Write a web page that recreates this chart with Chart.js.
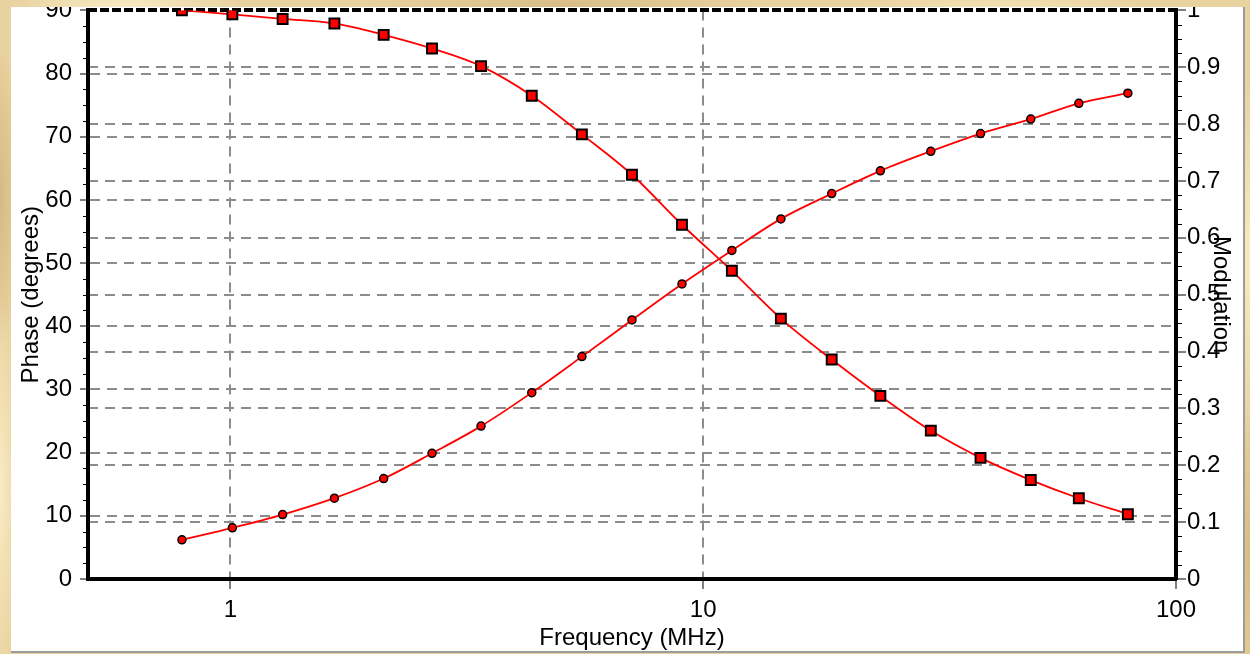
<!DOCTYPE html>
<html>
<head>
<meta charset="utf-8">
<script src="https://cdn.jsdelivr.net/npm/chart.js@4.4.0/dist/chart.umd.min.js"></script>
<style>
    html, body { margin: 0; padding: 0; }
    body {
        width: 1250px; height: 654px; overflow: hidden; position: relative;
        background-color: #e8d29f;
        background-image:
            radial-gradient(ellipse 120px 40px at 10% 2%, rgba(255, 246, 215, 0.8), transparent),
            radial-gradient(ellipse 200px 30px at 45% 1%, rgba(205, 175, 115, 0.6), transparent),
            radial-gradient(ellipse 160px 40px at 80% 3%, rgba(255, 240, 200, 0.7), transparent),
            radial-gradient(ellipse 20px 150px at 0% 30%, rgba(200, 168, 110, 0.6), transparent),
            radial-gradient(ellipse 20px 200px at 0% 75%, rgba(255, 242, 205, 0.8), transparent),
            radial-gradient(ellipse 20px 180px at 100% 40%, rgba(255, 242, 205, 0.8), transparent),
            radial-gradient(ellipse 20px 160px at 100% 85%, rgba(205, 172, 112, 0.6), transparent);
    }
    #panel {
        position: absolute; left: 11px; top: 7px; width: 1232px; height: 644px;
        background: #fff; overflow: hidden;
        border-right: 2px solid #9c9c9c; border-bottom: 2px solid #9c9c9c;
    }
    #wrap { position: absolute; left: 0; top: -19px; }
</style>
</head>
<body>
<div id="panel"><div id="wrap"><canvas id="phaseChart" width="1232" height="663"></canvas></div></div>
<script>
// Frequency sweep: phase (deg, left axis) and modulation (right axis)
const freqMHz = [0.79, 1.01, 1.29, 1.66, 2.11, 2.67, 3.39, 4.34, 5.54, 7.07,
                 9.02, 11.5, 14.6, 18.7, 23.7, 30.3, 38.6, 49.3, 62.3, 79.1];
const phaseDeg = [6.2, 8.1, 10.2, 12.8, 15.9, 19.9, 24.2, 29.5, 35.2, 41.0,
                  46.7, 52.0, 57.0, 61.0, 64.6, 67.7, 70.5, 72.8, 75.3, 76.9];
const modulation = [1.00, 0.993, 0.985, 0.977, 0.957, 0.933, 0.902, 0.850, 0.782, 0.711,
                    0.623, 0.542, 0.458, 0.386, 0.322, 0.261, 0.213, 0.174, 0.142, 0.114];

const freqTicks = [1, 10, 100];
const phaseTicks = [0, 10, 20, 30, 40, 50, 60, 70, 80, 90];
const modTicks = [0, 0.1, 0.2, 0.3, 0.4, 0.5, 0.6, 0.7, 0.8, 0.9, 1];

const FONT = { family: 'Liberation Sans, Arial, sans-serif', size: 24 };
const GRID_GRAY = '#8c8c8c';

// small unlabeled ticks between the labeled ones on both y axes
const minorTicks = {
    id: 'minorTicks',
    afterDraw(chart) {
        const { ctx, scales } = chart;
        const y = scales.y, y1 = scales.y1;
        ctx.save();
        ctx.strokeStyle = '#000';
        ctx.lineWidth = 1;
        ctx.beginPath();
        for (let i = 1; i < 36; i++) {
            if (i % 4 === 0) continue;
            const py = Math.round(y.getPixelForValue(i * 2.5)) + 0.5;
            ctx.moveTo(y.right - 5, py);
            ctx.lineTo(y.right, py);
        }
        for (let i = 1; i < 40; i++) {
            if (i % 4 === 0) continue;
            const py = Math.round(y1.getPixelForValue(i * 0.025)) + 0.5;
            ctx.moveTo(y1.left, py);
            ctx.lineTo(y1.left + 6, py);
        }
        ctx.stroke();
        ctx.restore();
    }
};

function toPoints(xs, ys) {
    return xs.map((x, i) => ({ x: x, y: ys[i] }));
}

const chart = document.getElementById('phaseChart');
new Chart(chart, {
    type: 'line',
    data: {
        datasets: [{
            label: 'Phase',
            data: toPoints(freqMHz, phaseDeg),
            yAxisID: 'y',
            borderColor: '#ff0000',
            borderWidth: 1.8,
            cubicInterpolationMode: 'monotone',
            pointStyle: 'circle',
            pointRadius: 4,
            pointBackgroundColor: '#ff0000',
            pointBorderColor: '#000',
            pointBorderWidth: 1.5
        }, {
            label: 'Modulation',
            data: toPoints(freqMHz, modulation),
            yAxisID: 'y1',
            borderColor: '#ff0000',
            borderWidth: 1.8,
            cubicInterpolationMode: 'monotone',
            pointStyle: 'rect',
            pointRadius: 7,
            pointBackgroundColor: '#ff0000',
            pointBorderColor: '#000',
            pointBorderWidth: 2
        }]
    },
    options: {
        responsive: false,
        animation: false,
        layout: { padding: { top: 20, left: 0, right: 0, bottom: 0 } },
        plugins: {
            legend: { display: false },
            tooltip: { enabled: false }
        },
        scales: {
            x: {
                type: 'logarithmic',
                position: 'bottom',
                min: 0.5,
                max: 100,
                afterBuildTicks: s => { s.ticks = freqTicks.map(v => ({ value: v })); },
                afterFit: s => { s.height = 72; },
                ticks: {
                    callback: v => String(v),
                    autoSkip: false,
                    maxRotation: 0,
                    color: '#000',
                    font: FONT,
                    padding: 7
                },
                grid: {
                    color: GRID_GRAY,
                    lineWidth: 2,
                    tickColor: '#000',
                    tickWidth: 1,
                    tickLength: 10
                },
                border: { color: '#000', width: 4, dash: [10, 7] },
                title: {
                    display: true,
                    text: 'Frequency (MHz)',
                    color: '#000',
                    font: FONT,
                    padding: { top: 0, bottom: -2 }
                }
            },
            y: {
                type: 'linear',
                position: 'left',
                min: 0,
                max: 90,
                afterBuildTicks: s => { s.ticks = phaseTicks.map(v => ({ value: v })); },
                afterFit: s => { s.width = 77; },
                ticks: {
                    callback: v => String(v),
                    color: '#000',
                    font: FONT,
                    padding: 8
                },
                grid: {
                    color: c => (c.tick && (c.tick.value === 0 || c.tick.value === 90)) ? 'rgba(0,0,0,0)' : GRID_GRAY,
                    lineWidth: 2,
                    tickColor: '#000',
                    tickWidth: 1,
                    tickLength: 8
                },
                border: { color: '#000', width: 4, dash: [10, 7] },
                title: {
                    display: true,
                    text: 'Phase (degrees)',
                    color: '#000',
                    font: FONT,
                    padding: { top: 6, bottom: 0 }
                }
            },
            y1: {
                type: 'linear',
                position: 'right',
                min: 0,
                max: 1,
                afterBuildTicks: s => { s.ticks = modTicks.map(v => ({ value: v })); },
                afterFit: s => { s.width = 67; },
                ticks: {
                    callback: v => String(v),
                    color: '#000',
                    font: FONT,
                    padding: 1
                },
                grid: {
                    color: c => {
                        if (!c.tick) return GRID_GRAY;
                        if (c.tick.value === 1) return '#000';
                        return c.tick.value === 0 ? 'rgba(0,0,0,0)' : GRID_GRAY;
                    },
                    lineWidth: c => (c.tick && c.tick.value === 1) ? 4 : 2,
                    tickColor: '#000',
                    tickWidth: 1,
                    tickLength: 10
                },
                border: {
                    color: '#000',
                    width: 4,
                    dash: c => (c.tick && c.tick.value === 1) ? [9, 3] : [10, 7]
                },
                title: {
                    display: true,
                    text: 'Modulation',
                    color: '#000',
                    font: FONT,
                    padding: { top: 8, bottom: 0 }
                }
            }
        }
    },
    plugins: [minorTicks]
});
</script>
</body>
</html>
